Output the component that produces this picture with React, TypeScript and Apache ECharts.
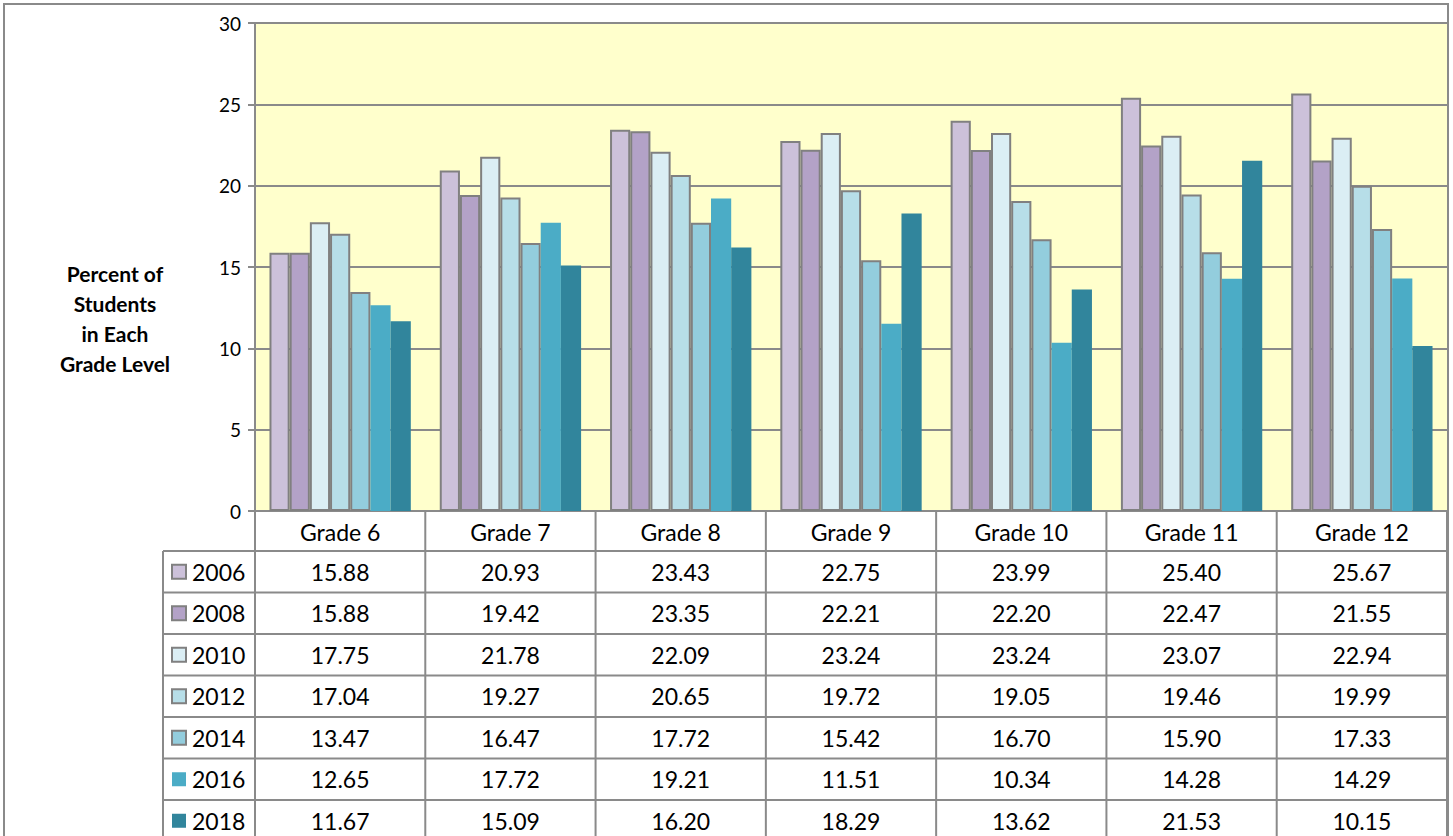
import React, { useEffect, useRef } from "react";
import * as echarts from "echarts";

const categories = ["Grade 6", "Grade 7", "Grade 8", "Grade 9", "Grade 10", "Grade 11", "Grade 12"];
const years = ["2006", "2008", "2010", "2012", "2014", "2016", "2018"];
const v2006 = [15.88, 20.93, 23.43, 22.75, 23.99, 25.4, 25.67];
const v2008 = [15.88, 19.42, 23.35, 22.21, 22.2, 22.47, 21.55];
const v2010 = [17.75, 21.78, 22.09, 23.24, 23.24, 23.07, 22.94];
const v2012 = [17.04, 19.27, 20.65, 19.72, 19.05, 19.46, 19.99];
const v2014 = [13.47, 16.47, 17.72, 15.42, 16.7, 15.9, 17.33];
const v2016 = [12.65, 17.72, 19.21, 11.51, 10.34, 14.28, 14.29];
const v2018 = [11.67, 15.09, 16.2, 18.29, 13.62, 21.53, 10.15];
const seriesValues = [v2006, v2008, v2010, v2012, v2014, v2016, v2018];
const colors = ["#CCC1DA", "#B3A2C7", "#DBEEF4", "#B7DEE8", "#93CDDD", "#4BACC6", "#31859C"];
const bordered = [true, true, true, true, true, false, false];
const yTitle = "Percent of\nStudents\nin Each\nGrade Level";

const FONT = "Lato, 'Liberation Sans', sans-serif";
const LINE = "#8a8a8a";

export default function App() {
  const ref = useRef<HTMLDivElement>(null);
  useEffect(() => {
    document.body.style.margin = "0";
    const chart = echarts.init(ref.current!, undefined, { renderer: "svg" });
    chart.setOption({
      animation: false,
      textStyle: { fontFamily: FONT },
      grid: {
        left: 255,
        right: 6,
        top: 23,
        bottom: 325,
        show: true,
        backgroundColor: "#FFFFCC",
        borderWidth: 0,
      },
      xAxis: {
        type: "category",
        data: categories,
        axisLine: { show: true, lineStyle: { color: LINE, width: 2 } },
        axisTick: { show: false },
        axisLabel: { fontSize: 23, color: "#000", margin: 9, fontFamily: FONT },
      },
      yAxis: {
        type: "value",
        min: 0,
        max: 30,
        interval: 5,
        axisLine: { show: true, lineStyle: { color: LINE, width: 2 } },
        axisTick: { show: true, length: 7, lineStyle: { color: LINE, width: 2 } },
        axisLabel: { fontSize: 19, color: "#000", margin: 14, fontFamily: FONT },
        splitLine: { show: true, lineStyle: { color: LINE, width: 2 } },
      },
      series: years.map((y, i) => ({
        name: y,
        type: "bar",
        data: seriesValues[i],
        barGap: "0%",
        barCategoryGap: "17%",
        itemStyle: {
          color: colors[i],
          borderColor: bordered[i] ? "#808080" : colors[i],
          borderWidth: bordered[i] ? 2 : 0,
        },
      })),
    });

    const centers = categories.map((_, i) => chart.convertToPixel({ xAxisIndex: 0 }, i) as number);
    const cw = centers.length > 1 ? centers[1] - centers[0] : 170;
    const y0 = chart.convertToPixel({ yAxisIndex: 0 }, 0) as number;
    const leftX = centers[0] - cw / 2;
    const rightX = centers[centers.length - 1] + cw / 2;
    const headerH = 40;
    const rowH = 41.5;
    const tableTop = y0 + headerH;
    const colLeft = 163;
    const bottom = 900;

    const g: any[] = [];
    g.push({
      type: "rect",
      shape: { x: 4, y: 4, width: 1444, height: 900 },
      style: { fill: "none", stroke: LINE, lineWidth: 2 },
      silent: true,
    });
    g.push({ type: "line", shape: { x1: colLeft, y1: tableTop, x2: colLeft, y2: bottom }, style: { stroke: LINE, lineWidth: 2 } });
    for (let i = 0; i <= categories.length; i++) {
      const x = leftX + i * cw;
      g.push({ type: "line", shape: { x1: x, y1: y0, x2: x, y2: bottom }, style: { stroke: LINE, lineWidth: 2 } });
    }
    for (let r = 0; r < years.length; r++) {
      const y = tableTop + r * rowH;
      g.push({ type: "line", shape: { x1: colLeft, y1: y, x2: rightX, y2: y }, style: { stroke: LINE, lineWidth: 2 } });
    }
    years.forEach((yr, r) => {
      const cy = tableTop + r * rowH + rowH / 2;
      g.push({
        type: "rect",
        shape: { x: 172, y: cy - 7, width: 14, height: 14 },
        style: { fill: colors[r], stroke: bordered[r] ? "#808080" : colors[r], lineWidth: bordered[r] ? 2 : 0 },
      });
      g.push({
        type: "text",
        x: 192,
        y: cy,
        style: { text: yr, fontSize: 23, fontFamily: FONT, fill: "#000", textAlign: "left", textVerticalAlign: "middle" },
      });
      seriesValues[r].forEach((v, c) => {
        g.push({
          type: "text",
          x: centers[c],
          y: cy,
          style: { text: v.toFixed(2), fontSize: 23, fontFamily: FONT, fill: "#000", textAlign: "center", textVerticalAlign: "middle" },
        });
      });
    });
    g.push({
      type: "text",
      x: 115,
      y: 318,
      style: {
        text: yTitle,
        fontSize: 21,
        fontWeight: "bold",
        fontFamily: FONT,
        fill: "#000",
        textAlign: "center",
        textVerticalAlign: "middle",
        lineHeight: 30,
      },
    });
    chart.setOption({ graphic: g });

    return () => chart.dispose();
  }, []);
  return <div ref={ref} style={{ position: "fixed", left: 0, top: 0, width: 1453, height: 836, background: "#fff" }} />;
}
